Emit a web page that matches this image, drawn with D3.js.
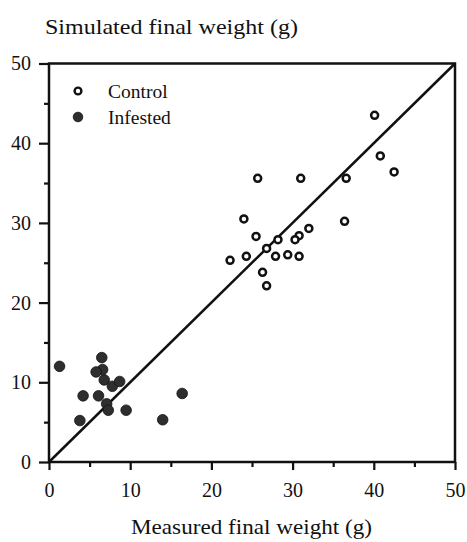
<!DOCTYPE html>
<html>
<head>
<meta charset="utf-8">
<script src="https://cdn.jsdelivr.net/npm/d3@7"></script>
<style>
  body { margin: 0; background: #fff; }
  svg text { font-family: "Liberation Serif", "DejaVu Serif", serif; fill: #111; }
</style>
</head>
<body>
<div class="canvas"></div>
<script>
// measured vs simulated final weight (g)
const controlMeasured = [40.1, 40.8, 42.5, 25.7, 31.0, 36.6, 24.0, 36.4, 32.0, 25.5, 30.8, 30.3,
  28.2, 26.8, 22.3, 24.3, 27.9, 29.4, 30.8, 26.3, 26.8];
const controlSimulated = [43.5, 38.4, 36.4, 35.6, 35.6, 35.6, 30.5, 30.2, 29.3, 28.3, 28.4, 27.9,
  27.9, 26.8, 25.3, 25.8, 25.8, 26.0, 25.8, 23.8, 22.1];
const infestedMeasured = [1.3, 6.5, 6.6, 5.8, 6.8, 7.8, 8.7, 4.2, 6.1, 7.1, 7.3, 9.5, 3.8, 14.0, 16.4];
const infestedSimulated = [12.0, 13.1, 11.6, 11.3, 10.3, 9.5, 10.1, 8.3, 8.3, 7.3, 6.5, 6.5, 5.2, 5.3, 8.6];
const tickValues = [0, 10, 20, 30, 40, 50];
const minorTicks = [5, 15, 25, 35, 45];
const legendLabels = ['Control', 'Infested'];

const width = 467, height = 542;
const margin = { top: 63.5, right: 12, bottom: 82, left: 49 };

const svg = d3.select('.canvas')
  .append('svg')
  .attr('width', width)
  .attr('height', height);

const x = d3.scaleLinear().domain([0, 50]).range([margin.left, width - margin.right]);
const y = d3.scaleLinear().domain([0, 50]).range([height - margin.bottom + 2, margin.top]);

// frame
svg.append('rect')
  .attr('x', x(0)).attr('y', y(50))
  .attr('width', x(50) - x(0)).attr('height', y(0) - y(50))
  .attr('fill', 'none').attr('stroke', '#111').attr('stroke-width', 2.5);

const styleAxis = g => {
  g.select('.domain').remove();
  g.selectAll('line').attr('stroke', '#111').attr('stroke-width', 2.2);
  g.selectAll('text').attr('font-size', 20).attr('font-family', '"Liberation Serif", serif');
};

// x axis
svg.append('g')
  .attr('transform', `translate(0,${y(0)})`)
  .call(d3.axisBottom(x).tickValues(tickValues).tickSize(8).tickPadding(13).tickFormat(d3.format('d')))
  .call(styleAxis);
svg.append('g')
  .attr('transform', `translate(0,${y(0)})`)
  .call(d3.axisBottom(x).tickValues(minorTicks).tickSize(5).tickFormat(''))
  .call(styleAxis);

// y axis
svg.append('g')
  .attr('transform', `translate(${x(0)},0)`)
  .call(d3.axisLeft(y).tickValues(tickValues).tickSize(10).tickPadding(8).tickFormat(d3.format('d')))
  .call(styleAxis);
svg.append('g')
  .attr('transform', `translate(${x(0)},0)`)
  .call(d3.axisLeft(y).tickValues(minorTicks).tickSize(5).tickFormat(''))
  .call(styleAxis);

// 1:1 line
svg.append('line')
  .attr('x1', x(0)).attr('y1', y(0))
  .attr('x2', x(50)).attr('y2', y(50))
  .attr('stroke', '#111').attr('stroke-width', 2.5);

// infested points
svg.append('g').selectAll('circle')
  .data(d3.zip(infestedMeasured, infestedSimulated))
  .join('circle')
  .attr('cx', d => x(d[0]))
  .attr('cy', d => y(d[1]))
  .attr('r', 5.3)
  .attr('fill', '#2e2e2e')
  .attr('stroke', '#111')
  .attr('stroke-width', 0.8);

// control points
svg.append('g').selectAll('circle')
  .data(d3.zip(controlMeasured, controlSimulated))
  .join('circle')
  .attr('cx', d => x(d[0]))
  .attr('cy', d => y(d[1]))
  .attr('r', 3.5)
  .attr('fill', '#fff')
  .attr('stroke', '#111')
  .attr('stroke-width', 2.5);

// legend
const legend = svg.append('g');
legendLabels.forEach((label, i) => {
  const ly = 91 + i * 26;
  legend.append('circle')
    .attr('cx', 78).attr('cy', ly)
    .attr('r', i === 0 ? 3.4 : 4.8)
    .attr('fill', i === 0 ? '#fff' : '#2e2e2e')
    .attr('stroke', '#111')
    .attr('stroke-width', i === 0 ? 2.4 : 0.8);
  legend.append('text')
    .attr('x', 108).attr('y', ly + 6.5)
    .attr('font-size', 19.5)
    .text(label);
});

// axis titles
svg.append('text')
  .attr('x', 45).attr('y', 34)
  .attr('font-size', 21)
  .attr('textLength', 253)
  .attr('lengthAdjust', 'spacingAndGlyphs')
  .text('Simulated final weight (g)');

svg.append('text')
  .attr('x', 131).attr('y', 534)
  .attr('font-size', 21)
  .attr('textLength', 241)
  .attr('lengthAdjust', 'spacingAndGlyphs')
  .text('Measured final weight (g)');
</script>
</body>
</html>
